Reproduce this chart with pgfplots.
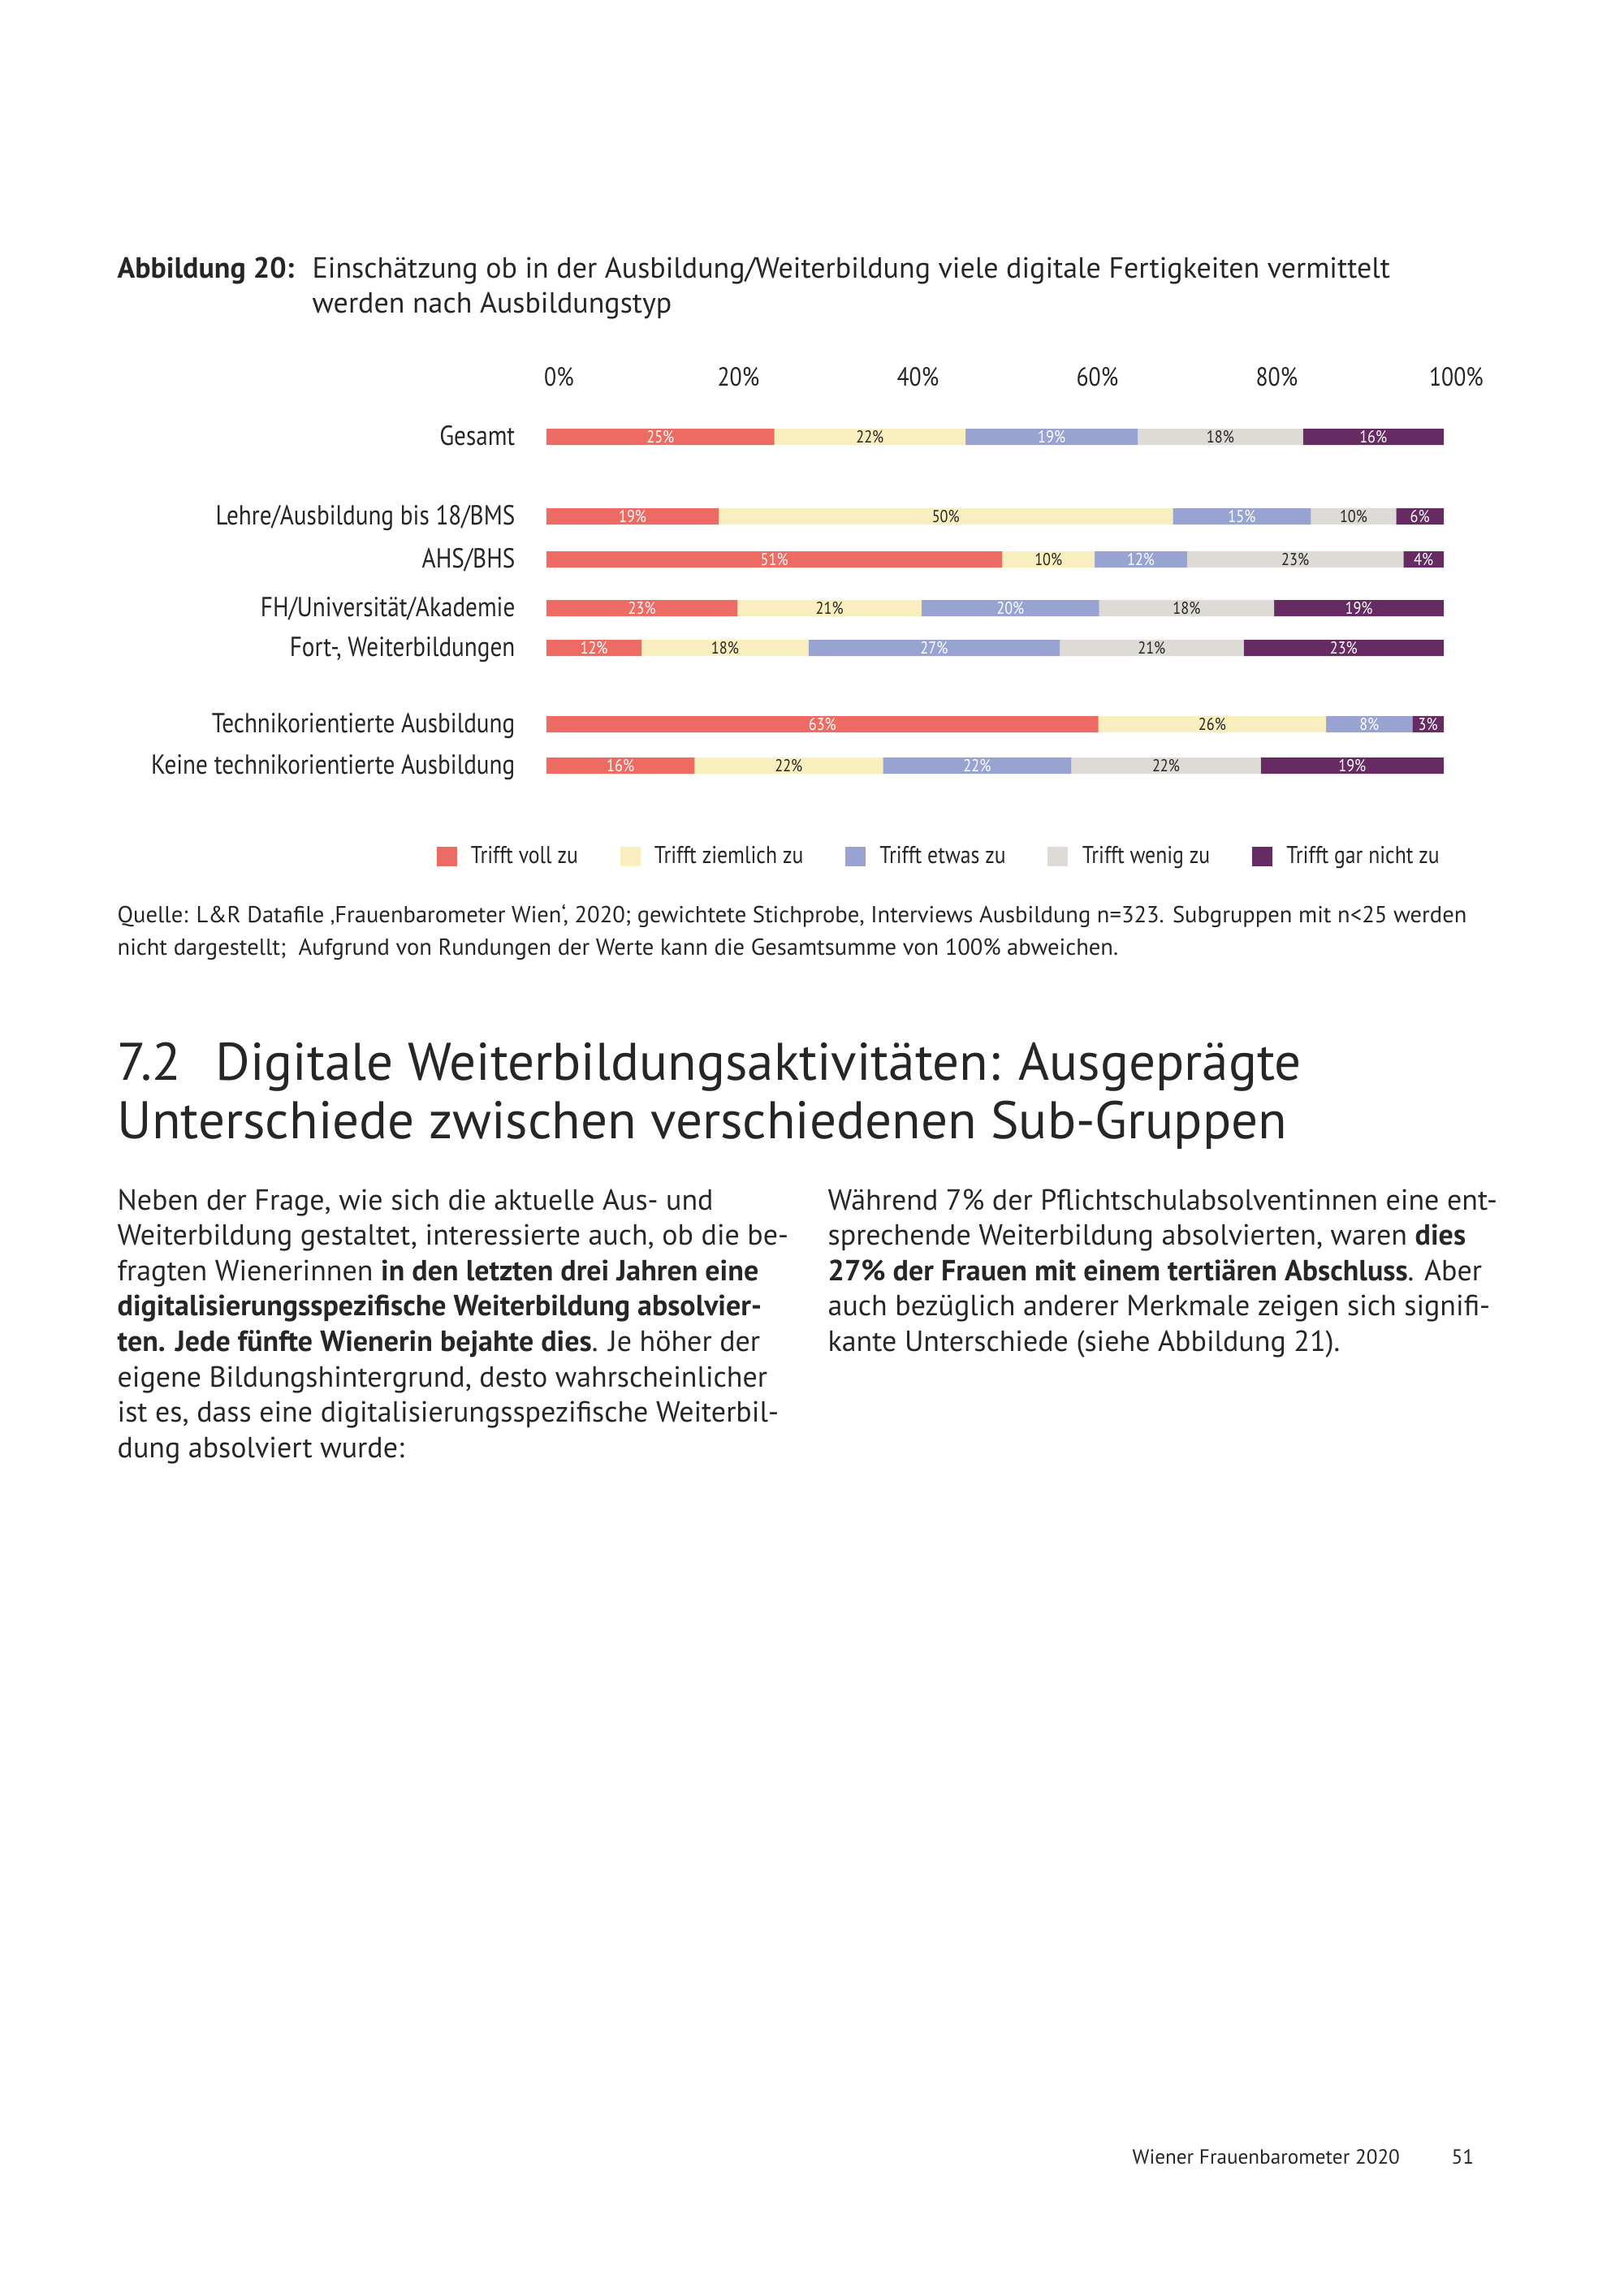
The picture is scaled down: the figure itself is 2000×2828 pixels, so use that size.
\documentclass[border=0pt]{standalone}
\usepackage{fontspec}
\setmainfont{PT Sans}
\newfontfamily\narrow{PT Sans}[FakeStretch=0.86]
\usepackage{pgfplots}
\usepackage{pgfplotstable}
\pgfplotsset{compat=1.18}

\definecolor{cred}{RGB}{237,107,99}
\definecolor{cyel}{RGB}{248,238,190}
\definecolor{cblu}{RGB}{153,163,210}
\definecolor{cgry}{RGB}{222,218,214}
\definecolor{cpur}{RGB}{101,43,98}
\definecolor{ctext}{RGB}{38,38,38}

% bar lengths (a..e) as drawn, printed labels (la..le) as shown
\pgfplotstableread{
cat y a b c d e la lb lc ld le
Gesamt 538 25.4 21.3 19.2 18.4 15.7 25 22 19 18 16
Lehre 636 19.2 50.6 15.4 9.5 5.3 19 50 15 10 6
AHS 689 50.8 10.3 10.3 24.1 4.5 51 10 12 23 4
FH 749 21.3 20.5 19.8 19.5 18.9 23 21 20 18 19
Fort 798 10.6 18.6 28.0 20.5 22.3 12 18 27 21 23
Technik 892 61.5 25.4 9.6 0 3.5 63 26 8 0 3
Keine 943 16.5 21.0 21.0 21.1 20.4 16 22 22 22 19
}\datatab

\newcommand\catfont{\narrow\fontsize{10.1}{12}\selectfont}
\newcommand\tickfont{\narrow\fontsize{9.6}{11}\selectfont}
\newcommand\legfont{\narrow\fontsize{8.9}{11}\selectfont}
\newcommand\valfont{\narrow\fontsize{6.3}{7}\selectfont}
\newcommand\bodyfont{\fontsize{10.7}{13}\selectfont}

\pgfplotsset{
  sq/.style={fill=#1, draw=none,
    legend image code/.code={\fill[#1] (0pt,-3.7pt) rectangle (7.4pt,3.7pt);}},
  frame/.style={
    at={(200.31pt,-148.82pt)}, anchor=north west, scale only axis,
    width=328.89pt, height=142.87pt,
    xmin=0, xmax=100, ymin=500, ymax=980, y dir=reverse,
    clip=false},
  lbl/.style={draw=none, point meta=explicit,
    /pgf/number format/assume math mode=true,
    nodes near coords={\pgfmathprintnumber{\pgfplotspointmeta}\%},
    every node near coord/.append style={anchor=center, font=\valfont, text=#1}},
}

\begin{document}
\begin{tikzpicture}
\begin{scope}[x=0.297638pt, y=-0.297638pt]
\path[use as bounding box, fill=white] (0,0) rectangle (2000,2828);

\node[anchor=base west, inner sep=0pt, font=\bodyfont\bfseries, text=ctext] at (144,342) {Abbildung 20:};
\node[anchor=base west, inner sep=0pt, font=\bodyfont, text=ctext] at (384,342) {Einschätzung ob in der Ausbildung/Weiterbildung viele digitale Fertigkeiten vermittelt};
\node[anchor=base west, inner sep=0pt, font=\bodyfont, text=ctext] at (384,385) {werden nach Ausbildungstyp};

\begin{scope}[every node/.style={anchor=base west, inner sep=0pt, text=ctext, font=\fontsize{8.5}{10}\selectfont}]
\node at (144,1136) {Quelle: L\&R Datafile ‚Frauenbarometer Wien‘, 2020; gewichtete Stichprobe, Interviews Ausbildung n=323. Subgruppen mit n<25 werden};
\node at (144,1176) {nicht dargestellt;\ \ Aufgrund von Rundungen der Werte kann die Gesamtsumme von 100\% abweichen.};
\end{scope}

\begin{scope}[every node/.style={anchor=base west, inner sep=0pt, text=ctext, font=\fontsize{19.4}{24}\selectfont}]
\node at (144,1330) {7.2};
\node at (265,1330) {Digitale Weiterbildungsaktivitäten: Ausgeprägte};
\node at (144,1402) {Unterschiede zwischen verschiedenen Sub-Gruppen};
\end{scope}

\begin{scope}[every node/.style={anchor=base west, inner sep=0pt, text=ctext, font=\bodyfont}]
\node at (144,1490) {Neben der Frage, wie sich die aktuelle Aus- und};
\node at (144,1533.6) {Weiterbildung gestaltet, interessierte auch, ob die be-};
\node at (144,1577.2) {fragten Wienerinnen \textbf{in den letzten drei Jahren eine}};
\node at (144,1620.8) {\textbf{digitalisierungsspezifische Weiterbildung absolvier-}};
\node at (144,1664.4) {\textbf{ten. Jede fünfte Wienerin bejahte dies}. Je höher der};
\node at (144,1708) {eigene Bildungshintergrund, desto wahrscheinlicher};
\node at (144,1751.6) {ist es, dass eine digitalisierungsspezifische Weiterbil-};
\node at (144,1795.2) {dung absolviert wurde:};
\node at (1019,1490) {Während 7\% der Pflichtschulabsolventinnen eine ent-};
\node at (1019,1533.6) {sprechende Weiterbildung absolvierten, waren \textbf{dies}};
\node at (1019,1577.2) {\textbf{27\% der Frauen mit einem tertiären Abschluss}. Aber};
\node at (1019,1620.8) {auch bezüglich anderer Merkmale zeigen sich signifi-};
\node at (1019,1664.4) {kante Unterschiede (siehe Abbildung 21).};
\end{scope}

\node[anchor=base west, inner sep=0pt, text=ctext, font=\fontsize{7.5}{10}\selectfont] at (1394,2665) {Wiener Frauenbarometer 2020};
\node[anchor=base west, inner sep=0pt, text=ctext, font=\fontsize{7.5}{10}\selectfont] at (1787,2665) {51};
\end{scope}

\begin{axis}[frame,
  xbar stacked, bar width=5.95pt,
  axis line style={draw=none}, tick style={draw=none},
  xtick={0,20,40,60,80,100},
  xticklabels={0\%,20\%,40\%,60\%,80\%,100\%},
  xticklabel pos=upper,
  xticklabel style={font=\tickfont, text=ctext, anchor=base, inner sep=0pt, yshift=7.4pt, xshift=4.6pt},
  ytick={538,636,689,749,798,892,943},
  yticklabels={Gesamt,{Lehre/Ausbildung bis 18/BMS},AHS/BHS,FH/Universität/Akademie,{Fort-, Weiterbildungen},Technikorientierte Ausbildung,Keine technikorientierte Ausbildung},
  yticklabel style={font=\catfont, text=ctext, anchor=base east, inner sep=0pt, xshift=-11.3pt, yshift=-3.2pt},
  legend columns=5,
  legend cell align=left,
  legend style={at={(axis cs:-12.31,1055)}, anchor=west, draw=none, fill=none,
    inner sep=0pt, font=\legfont, text=ctext,
    /tikz/every even column/.append style={column sep=13.4pt},
    /tikz/every odd column/.append style={column sep=3.2pt}},
]
\addplot[sq=cred] table[x=a, y=y] {\datatab};
\addlegendentry{Trifft voll zu}
\addplot[sq=cyel] table[x=b, y=y] {\datatab};
\addlegendentry{Trifft ziemlich zu}
\addplot[sq=cblu] table[x=c, y=y] {\datatab};
\addlegendentry{Trifft etwas zu}
\addplot[sq=cgry] table[x=d, y=y] {\datatab};
\addlegendentry{Trifft wenig zu}
\addplot[sq=cpur] table[x=e, y=y] {\datatab};
\addlegendentry{Trifft gar nicht zu}
\end{axis}

\begin{axis}[frame, hide axis]
\addplot[lbl=white] table[x expr=\thisrow{a}/2, y=y, meta=la] {\datatab};
\addplot[lbl=ctext] table[x expr=\thisrow{a}+\thisrow{b}/2, y=y, meta=lb] {\datatab};
\addplot[lbl=white] table[x expr=\thisrow{a}+\thisrow{b}+\thisrow{c}/2, y=y, meta=lc] {\datatab};
\addplot[lbl=ctext, restrict expr to domain={\thisrow{ld}}{0.5:100}] table[x expr=\thisrow{a}+\thisrow{b}+\thisrow{c}+\thisrow{d}/2, y=y, meta=ld] {\datatab};
\addplot[lbl=white] table[x expr=\thisrow{a}+\thisrow{b}+\thisrow{c}+\thisrow{d}+\thisrow{e}/2, y=y, meta=le] {\datatab};
\end{axis}
\end{tikzpicture}
\end{document}
